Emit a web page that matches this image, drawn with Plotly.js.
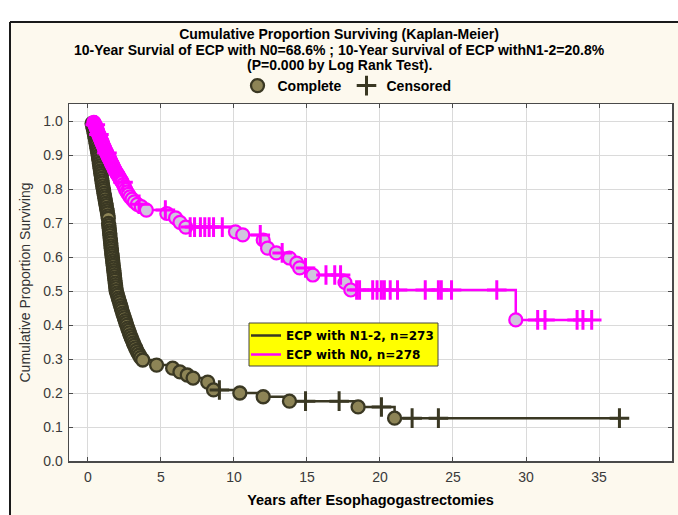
<!DOCTYPE html>
<html>
<head>
<meta charset="utf-8">
<script src="https://cdn.plot.ly/plotly-3.0.1.min.js"></script>
<style>html,body{margin:0;padding:0;background:#fff;}#chart{width:678px;height:515px;}</style>
</head>
<body>
<div id="chart"></div>
<script>
// ---- Data (years, cumulative proportion surviving) ----
// ECP with N1-2 (n=273): events (complete) and censored
const n12EventT = [0.28,0.32,0.36,0.40,0.43,0.46,0.50,0.53,0.56,0.59,0.62,0.65,0.68,0.71,0.73,0.76,0.78,0.81,0.83,0.86,0.88,0.91,0.93,0.96,0.98,1.01,1.04,1.07,1.10,1.13,1.16,1.19,1.22,1.25,1.28,1.31,1.34,1.37,1.39,
  1.41,1.43,1.45,1.47,1.49,1.50,1.52,1.54,1.56,1.57,1.59,1.61,1.63,1.65,
  1.67,1.69,1.71,1.73,1.75,1.77,1.79,1.81,1.83,1.85,1.87,1.89,1.91,1.93,
  1.98,2.03,2.08,2.13,2.18,2.23,2.28,2.33,2.38,2.44,2.49,2.55,2.60,2.66,
  2.72,2.78,2.84,2.90,2.97,3.04,3.11,3.18,3.26,3.34,3.43,3.52,3.62,3.75,
  4.7,5.8,6.3,6.8,7.2,8.2,8.6,10.4,12.0,13.8,18.5,21.0];
const n12EventS = [0.993,0.985,0.978,0.971,0.963,0.956,0.949,0.941,0.934,0.927,0.919,0.912,0.905,0.897,0.890,0.883,0.875,0.868,0.861,0.853,0.846,0.839,0.831,0.824,0.817,0.809,0.802,0.795,0.787,0.780,0.773,0.765,0.758,0.751,0.743,0.736,0.729,0.721,0.714,
  0.699,0.692,0.685,0.677,0.670,0.663,0.655,0.648,0.641,0.633,0.626,0.619,0.611,0.604,
  0.597,0.589,0.582,0.575,0.567,0.560,0.553,0.545,0.538,0.531,0.523,0.516,0.509,0.501,
  0.494,0.487,0.479,0.472,0.465,0.457,0.450,0.443,0.435,0.428,0.421,0.413,0.406,0.399,
  0.391,0.384,0.377,0.369,0.362,0.355,0.347,0.340,0.333,0.325,0.318,0.311,0.304,0.297,
  0.282,0.273,0.262,0.253,0.244,0.232,0.209,0.200,0.189,0.176,0.159,0.126];
const n12CensT = [9.0,14.9,17.2,20.1,22.2,24.0,36.4];
const n12CensS = [0.209,0.176,0.176,0.159,0.126,0.126,0.126];

// ECP with N0 (n=278)
const n0EventT = [0.40,0.44,0.48,0.52,0.55,0.58,0.61,0.64,0.67,0.70,0.74,0.77,0.81,0.84,0.88,0.91,0.95,0.98,
  1.02,1.05,1.09,1.12,1.16,1.20,1.24,1.28,1.32,1.36,1.40,1.44,1.48,1.52,1.56,1.60,1.64,1.68,1.72,1.76,1.80,1.84,
  1.89,1.94,1.99,2.04,2.09,2.14,2.19,2.24,2.29,2.34,2.42,2.50,2.58,2.67,2.77,2.88,3.02,3.18,3.38,3.65,4.00,
  5.4,6.0,6.3,6.7,10.1,10.6,12.0,12.3,12.9,13.8,14.3,14.5,15.4,17.6,18.0,29.3];
const n0EventS = [0.996,0.993,0.989,0.986,0.982,0.978,0.975,0.971,0.968,0.964,0.960,0.957,0.953,0.950,0.946,0.942,0.939,0.935,
  0.931,0.928,0.924,0.921,0.917,0.913,0.910,0.906,0.902,0.899,0.895,0.892,0.888,0.885,0.881,0.877,0.874,0.870,0.867,0.863,0.859,0.856,
  0.852,0.849,0.845,0.842,0.838,0.834,0.831,0.827,0.824,0.820,0.813,0.806,0.798,0.791,0.784,0.777,0.770,0.762,0.755,0.748,0.738,
  0.728,0.715,0.702,0.688,0.674,0.665,0.650,0.626,0.612,0.597,0.582,0.568,0.547,0.525,0.503,0.415];
const n0CensT = [0.5,0.75,1.3,2.4,3.5,5.3,7.0,7.3,7.7,8.0,8.3,8.6,9.2,11.8,13.3,14.9,16.3,16.9,17.3,18.4,18.6,19.5,19.8,20.1,20.3,20.7,21.2,23.1,24.0,24.2,24.9,28.0,30.8,31.3,33.5,33.9,34.5];
const n0CensS = [0.989,0.960,0.906,0.820,0.755,0.738,0.688,0.688,0.688,0.688,0.688,0.688,0.688,0.665,0.612,0.568,0.547,0.547,0.547,0.503,0.503,0.503,0.503,0.503,0.503,0.503,0.503,0.503,0.503,0.503,0.503,0.503,0.415,0.415,0.415,0.415,0.415];

const seriesNames = ["ECP with N1-2, n=273", "ECP with N0, n=278"];
const xTicks = [0,5,10,15,20,25,30,35,40];
const yTicks = [0.0,0.1,0.2,0.3,0.4,0.5,0.6,0.7,0.8,0.9,1.0];
const titleLines = [
  "Cumulative Proportion Surviving (Kaplan-Meier)",
  "10-Year Survial of ECP with N0=68.6% ; 10-Year survival of ECP withN1-2=20.8%",
  "(P=0.000 by Log Rank Test)."
];

// Build a step line through events and censored points (starts at 1.0)
function stepLine(eT, eS, cT, cS) {
  const pts = [[0, 1.0]];
  eT.forEach((t, i) => pts.push([t, eS[i]]));
  cT.forEach((t, i) => pts.push([t, cS[i]]));
  pts.sort((a, b) => a[0] - b[0]);
  return {x: pts.map(p => p[0]), y: pts.map(p => p[1])};
}

const darkLine = '#3a3823';
const olive = '#8d8456';
const magenta = '#ff00ff';
const lav = '#cfc6dc';

const l12 = stepLine(n12EventT, n12EventS, n12CensT, n12CensS);
const l0 = stepLine(n0EventT, n0EventS, n0CensT, n0CensS);

const traces = [
  {x: l12.x, y: l12.y, type: 'scatter', mode: 'lines', line: {shape: 'hv', color: darkLine, width: 2.5},
   name: seriesNames[0], legend: 'legend2'},
  {x: n12EventT, y: n12EventS, type: 'scatter', mode: 'markers', name: 'Complete', legend: 'legend',
   marker: {symbol: 'circle', size: 13, color: olive, line: {color: darkLine, width: 2.3}}},
  {x: n12CensT, y: n12CensS, type: 'scatter', mode: 'markers', name: 'Censored', legend: 'legend',
   marker: {symbol: 'cross-thin', size: 14, color: darkLine, line: {color: darkLine, width: 3}}},
  {x: l0.x, y: l0.y, type: 'scatter', mode: 'lines', line: {shape: 'hv', color: magenta, width: 2.5},
   name: seriesNames[1], legend: 'legend2'},
  {x: n0EventT, y: n0EventS, type: 'scatter', mode: 'markers', showlegend: false,
   marker: {symbol: 'circle', size: 13, color: lav, line: {color: magenta, width: 2.2}}},
  {x: n0CensT, y: n0CensS, type: 'scatter', mode: 'markers', showlegend: false,
   marker: {symbol: 'cross-thin', size: 14, color: magenta, line: {color: magenta, width: 3}}}
];

// paper-coordinate helpers (plot area: px 69..672, py 104..461)
const px = v => (v - 69) / 603;
const py = v => (461 - v) / 357;
const FONT = 'Liberation Sans, Arial, sans-serif';
const WIDE = 'DejaVu Sans, Verdana, sans-serif';

const layout = {
  width: 678, height: 515,
  margin: {l: 69, r: 6, t: 104, b: 54},
  paper_bgcolor: '#fdf9ee',
  plot_bgcolor: '#ffffff',
  font: {family: FONT, size: 12, color: '#000'},
  title: {
    text: '<b>' + titleLines[0] + '</b>',
    font: {family: FONT, size: 14, color: '#000'},
    x: 0.5, xanchor: 'center', xref: 'container',
    y: 1 - 34 / 515, yanchor: 'middle', yref: 'container'
  },
  annotations: [
    {text: '<b>' + titleLines[1] + '</b>', xref: 'paper', yref: 'paper', x: px(339), y: py(50),
     xanchor: 'center', yanchor: 'middle', showarrow: false, font: {family: FONT, size: 14, color: '#000'}},
    {text: '<b>' + titleLines[2] + '</b>', xref: 'paper', yref: 'paper', x: px(339), y: py(65),
     xanchor: 'center', yanchor: 'middle', showarrow: false, font: {family: FONT, size: 14, color: '#000'}}
  ],
  xaxis: {
    range: [-1.3, 40], tickvals: xTicks, ticktext: xTicks.map(String),
    showgrid: true, gridcolor: '#dadada', gridwidth: 1, zeroline: false,
    showline: true, linecolor: '#4a4a4a', linewidth: 1.5, mirror: 'allticks',
    ticks: 'inside', ticklen: 4, tickcolor: '#4a4a4a', ticklabelstandoff: 3,
    tickfont: {size: 14, color: '#3a3a3a'},
    title: {text: '<b>Years after Esophagogastrectomies</b>', font: {size: 14.5, color: '#000'}, standoff: 10}
  },
  yaxis: {
    range: [0, 1.05], tickvals: yTicks, ticktext: yTicks.map(v => v.toFixed(1)),
    showgrid: true, gridcolor: '#dadada', gridwidth: 1, zeroline: false,
    showline: true, linecolor: '#4a4a4a', linewidth: 1.5, mirror: 'allticks',
    ticks: 'inside', ticklen: 4, tickcolor: '#4a4a4a', ticklabelstandoff: 2,
    tickfont: {size: 14, color: '#3a3a3a'},
    title: {text: 'Cumulative Proportion Surviving', font: {size: 14, color: '#333'}, standoff: 9}
  },
  legend: {
    orientation: 'h', x: px(347), xanchor: 'center', y: py(86), yanchor: 'middle',
    bgcolor: 'rgba(0,0,0,0)', font: {size: 14, color: '#000', weight: 'bold'},
    itemwidth: 30, traceorder: 'normal'
  },
  legend2: {
    x: px(246), xanchor: 'left', y: py(321), yanchor: 'top',
    bgcolor: 'rgba(0,0,0,0)', borderwidth: 0,
    font: {family: WIDE, size: 12, color: '#000', weight: 'bold'}, itemwidth: 30, traceorder: 'normal',
    tracegroupgap: 0
  },
  shapes: [
    {type: 'rect', xref: 'paper', yref: 'paper', x0: -0.2, x1: 1.2, y0: py(21), y1: 1.4, fillcolor: '#ffffff', line: {width: 0}, layer: 'below'},
    {type: 'rect', xref: 'paper', yref: 'paper', x0: -0.2, x1: px(9), y0: -0.3, y1: 1.4, fillcolor: '#ffffff', line: {width: 0}, layer: 'below'},
    {type: 'line', xref: 'paper', yref: 'paper', x0: px(10), x1: px(10), y0: -0.3, y1: py(22), line: {color: '#1a1a1a', width: 2}},
    {type: 'line', xref: 'paper', yref: 'paper', x0: px(10), x1: 1.2, y0: py(22), y1: py(22), line: {color: '#1a1a1a', width: 2}},
    // yellow legend box behind legend2
    {type: 'rect', xref: 'paper', yref: 'paper', x0: px(249), x1: px(438), y0: py(366), y1: py(323), fillcolor: '#ffff00', line: {color: '#444', width: 1}, layer: 'above'}
  ],
  showlegend: true
};

Plotly.newPlot('chart', traces, layout, {staticPlot: true, displayModeBar: false});
</script>
</body>
</html>
